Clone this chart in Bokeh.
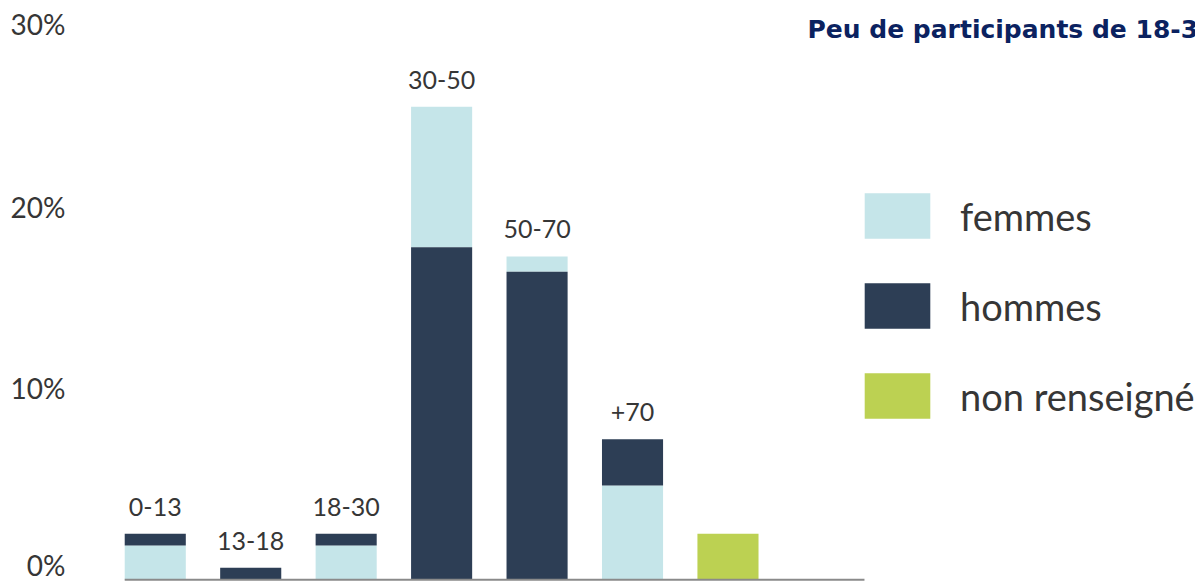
import numpy as np
from bokeh.plotting import figure
from bokeh.models import ColumnDataSource, Range1d, FixedTicker, LabelSet, Label, Legend, LegendItem
from bokeh.core.properties import value
from bokeh.embed import file_html
from bokeh.resources import INLINE

# ---- data (percent of participants) ----
categories = ["0-13", "13-18", "18-30", "30-50", "50-70", "+70", "non renseigné"]
femmes = [1.88, 0.0, 1.88, 7.7, 0.84, 5.16, 0.0]
hommes = [0.64, 0.66, 0.64, 18.2, 16.86, 2.54, 0.0]
non_renseigne = [0.0, 0.0, 0.0, 0.0, 0.0, 0.0, 2.52]
bar_labels = ["0-13", "13-18", "18-30", "30-50", "50-70", "+70", ""]
tick_values = [0.4, 10.5, 20.4, 30.4]
tick_labels = ["0%", "10%", "20%", "30%"]
title_text = "Peu de participants de 18-30 ans"

# ---- styles ----
C_FEM = "#c5e5e9"
C_HOM = "#2d3e55"
C_NR = "#bcd152"
C_TXT = "#363636"
C_TITLE = "#0b2260"
FONT = "Lato"
BAR_W = 0.64

f = np.array(femmes)
h = np.array(hommes)
nr = np.array(non_renseigne)
x = np.arange(len(categories))
# larger segment at the bottom, as in the original
f_bot = np.where(f >= h, 0.0, h)
h_bot = np.where(f >= h, f, 0.0)
src = ColumnDataSource(dict(
    x=x, cat=categories,
    f_bot=f_bot, f_top=f_bot + f,
    h_bot=h_bot, h_top=h_bot + h,
    nr_top=nr,
    total=f + h + nr,
    lab=bar_labels,
))

W, H = 1195, 581
p = figure(width=W, height=H, output_backend="svg", toolbar_location=None,
           x_range=Range1d(-0.888, 10.898), y_range=Range1d(-0.093, 31.71),
           min_border_left=70, min_border_right=0, min_border_top=0, min_border_bottom=0)
p.outline_line_color = None
p.background_fill_color = "white"
p.border_fill_color = "white"
p.xgrid.visible = False
p.ygrid.visible = False
p.xaxis.visible = False

ya = p.yaxis[0]
ya.ticker = FixedTicker(ticks=tick_values)
ya.major_label_overrides = {v: t for v, t in zip(tick_values, tick_labels)}
ya.axis_line_color = None
ya.major_tick_line_color = None
ya.minor_tick_line_color = None
ya.major_tick_out = 0
ya.major_tick_in = 0
ya.minor_tick_out = 0
ya.minor_tick_in = 0
ya.major_label_standoff = 5
ya.major_label_text_font = FONT
ya.major_label_text_font_size = "28px"
ya.major_label_text_color = C_TXT

rf = p.vbar(x="x", bottom="f_bot", top="f_top", width=BAR_W, source=src,
            fill_color=C_FEM, line_color=None)
rh = p.vbar(x="x", bottom="h_bot", top="h_top", width=BAR_W, source=src,
            fill_color=C_HOM, line_color=None)
rn = p.vbar(x="x", bottom=0, top="nr_top", width=BAR_W, source=src,
            fill_color=C_NR, line_color=None)

# baseline
p.segment(x0=[-BAR_W / 2], y0=[0], x1=[len(categories) + 0.43], y1=[0],
          line_color="#8a8a8a", line_width=2)

labels = LabelSet(x="x", y="total", text="lab", source=src, y_offset=18,
                  text_align="center", text_baseline="alphabetic",
                  text_font=value(FONT), text_font_size="25px", text_color=C_TXT)
p.add_layout(labels)

legend = Legend(items=[LegendItem(label="femmes", renderers=[rf]),
                       LegendItem(label="hommes", renderers=[rh]),
                       LegendItem(label="non renseigné", renderers=[rn])],
                location=(786, 157), orientation="vertical",
                glyph_width=82, glyph_height=57, spacing=33, padding=0, margin=0,
                label_standoff=22, label_text_font=FONT, label_text_font_size="38px",
                label_text_color=C_TXT, border_line_color=None,
                background_fill_alpha=0)
p.add_layout(legend)

title = Label(x=737, y=552, x_units="screen", y_units="screen", text=title_text,
              text_font="DejaVu Sans", text_font_style="bold", text_font_size="25px",
              text_color=C_TITLE, text_baseline="alphabetic", text_align="left")
p.add_layout(title)

open("out.html", "w").write(file_html(p, INLINE))
